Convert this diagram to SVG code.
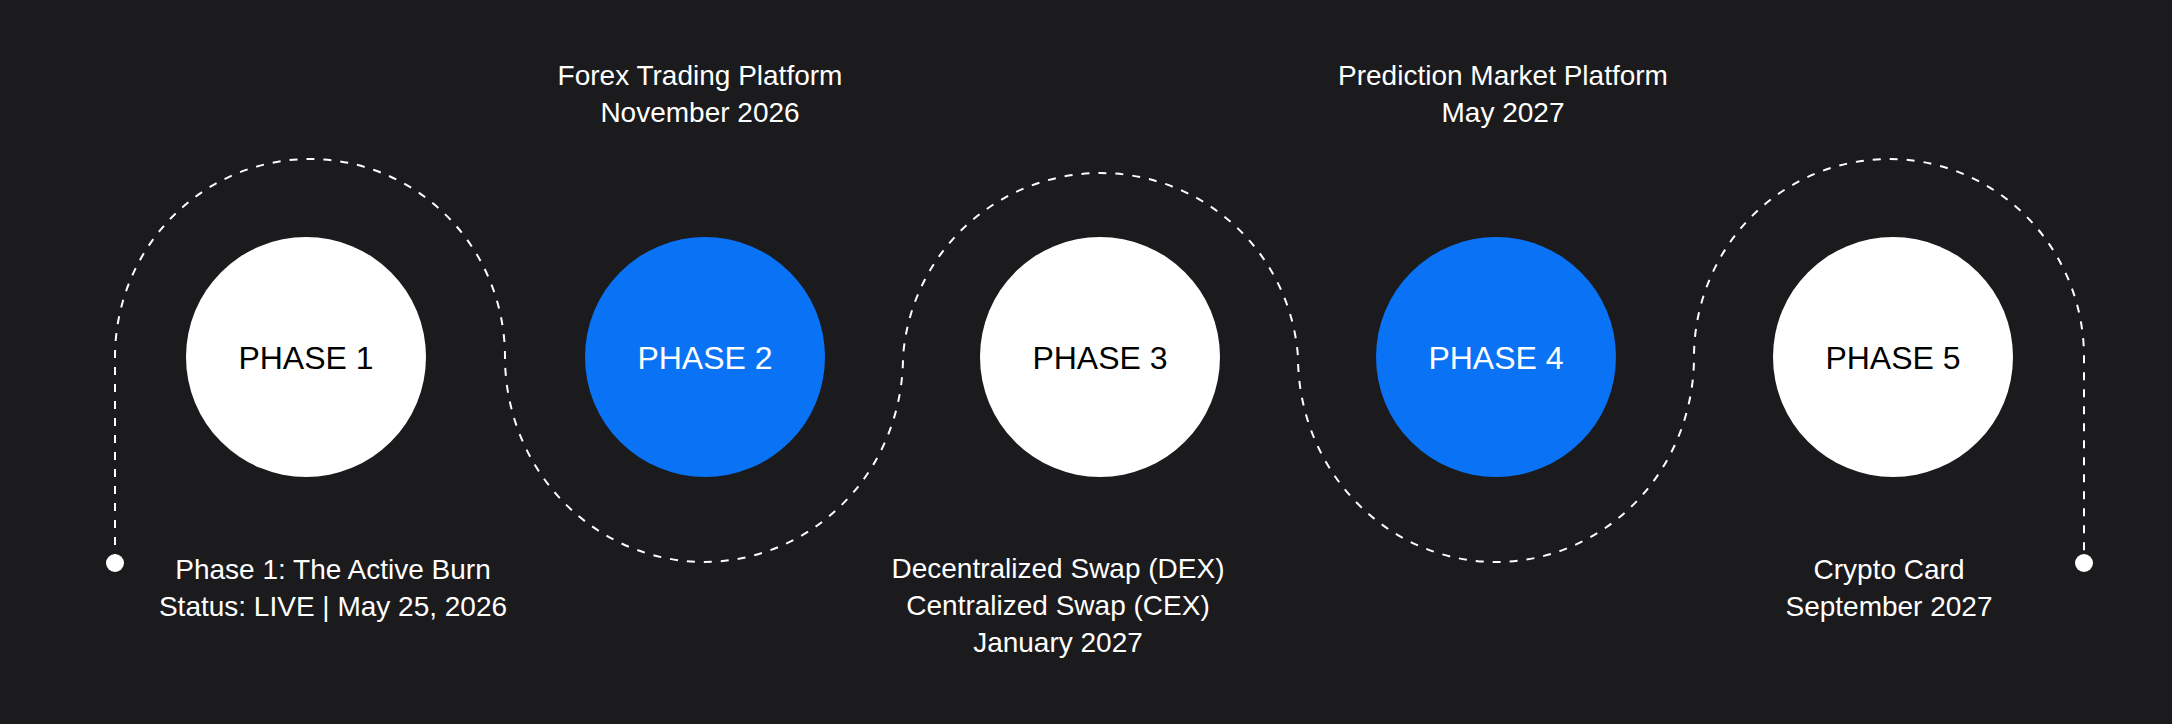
<svg xmlns="http://www.w3.org/2000/svg" width="2172" height="724" viewBox="0 0 2172 724" xml:space="preserve">
<style>
.t{font-family:"Liberation Sans",Arial,sans-serif;font-size:28px;fill:#ffffff;text-anchor:middle}
.p{font-family:"Liberation Sans",Arial,sans-serif;font-size:32px;text-anchor:middle}
.w{fill:#ffffff}.b{fill:#0A72F5}
</style>
<rect width="2172" height="724" fill="#1b1a1c"/>
<g id="connectors">
<path d="M115,562 L115,357 A195,198 0 0 1 505,357 A199,205 0 0 0 903,357 A198,198 0 0 1 1298,357 A198,205 0 0 0 1694,357 A195,198 0 0 1 2084,357 L2084,562" fill="none" stroke="#ffffff" stroke-width="2" stroke-dasharray="8 9"/>
<circle cx="115" cy="563" r="9" fill="#ffffff"/>
<circle cx="2084" cy="563" r="9" fill="#ffffff"/>
</g>
<g id="phase1"><circle class="w" cx="306" cy="357" r="120"/><text class="p" x="306" y="369" fill="#000">PHASE 1</text>
<text class="t" x="333" y="579">Phase 1:  The Active Burn</text><text class="t" x="333" y="616">Status: LIVE | May 25, 2026</text></g>
<g id="phase2"><circle class="b" cx="705" cy="357" r="120"/><text class="p" x="705" y="369" fill="#fff">PHASE 2</text>
<text class="t" x="700" y="85">Forex Trading Platform</text><text class="t" x="700" y="122">November 2026</text></g>
<g id="phase3"><circle class="w" cx="1100" cy="357" r="120"/><text class="p" x="1100" y="369" fill="#000">PHASE 3</text>
<text class="t" x="1058" y="578">Decentralized Swap (DEX)</text><text class="t" x="1058" y="615">Centralized Swap (CEX)</text><text class="t" x="1058" y="652">January  2027</text></g>
<g id="phase4"><circle class="b" cx="1496" cy="357" r="120"/><text class="p" x="1496" y="369" fill="#fff">PHASE 4</text>
<text class="t" x="1503" y="85">Prediction Market Platform</text><text class="t" x="1503" y="122">May  2027</text></g>
<g id="phase5"><circle class="w" cx="1893" cy="357" r="120"/><text class="p" x="1893" y="369" fill="#000">PHASE 5</text>
<text class="t" x="1889" y="579">Crypto Card</text><text class="t" x="1889" y="616">September  2027</text></g>
</svg>
